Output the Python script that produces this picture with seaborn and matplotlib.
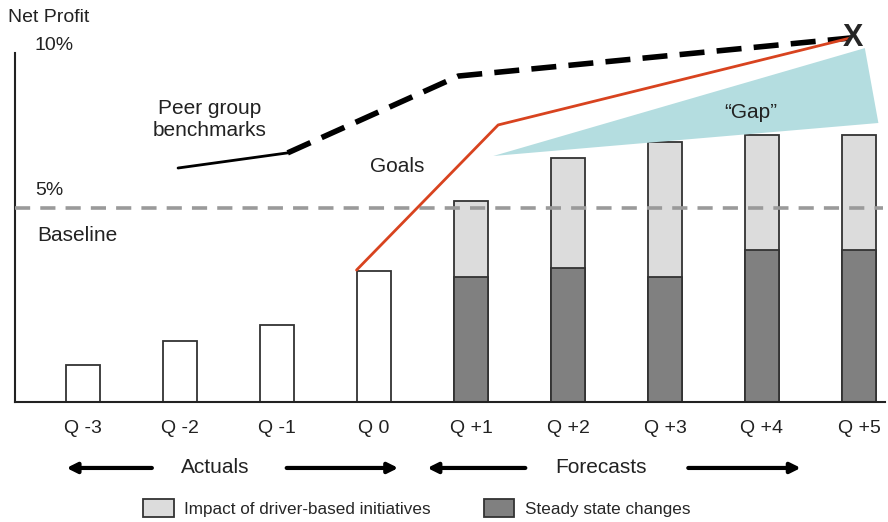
import matplotlib
matplotlib.use("Agg")
from matplotlib import pyplot as plt
from matplotlib.patches import Patch
import seaborn as sns
import pandas as pd

sns.set_style("white")
plt.rcParams['font.family'] = ['Liberation Sans', 'DejaVu Sans']

# bar data (net profit, %)
quarters = ["Q -3", "Q -2", "Q -1", "Q 0", "Q +1", "Q +2", "Q +3", "Q +4", "Q +5"]
kind = ["Actual"] * 4 + ["Forecast"] * 5
total = [0.95, 1.57, 1.98, 3.38, 5.18, 6.29, 6.70, 6.88, 6.88]
steady = [0, 0, 0, 0, 3.22, 3.45, 3.22, 3.92, 3.92]

# lines, x in quarter positions
peer_x = [0.98, 2.11]
peer_y = [6.03, 6.42]
peer_fc_x = [2.11, 3.87, 7.91]
peer_fc_y = [6.42, 8.40, 9.38]
goal_x = [2.82, 4.28, 7.91]
goal_y = [3.40, 7.14, 9.38]
gap_x = [4.23, 8.06, 8.20]
gap_y = [6.34, 9.12, 7.19]
baseline = 5.0

df = pd.DataFrame({"quarter": quarters, "kind": kind,
                   "total": total, "steady": steady})

fig = plt.figure(figsize=(8.88, 5.22), dpi=100)
ax = fig.add_axes([15 / 888, 120 / 522, 873 / 888, 402 / 522])

edge = "#333333"
sns.barplot(data=df, x="quarter", y="total", hue="kind", order=quarters,
            palette={"Actual": "white", "Forecast": "#dcdcdc"},
            dodge=False, width=0.36, edgecolor=edge, linewidth=1.3,
            errorbar=None, legend=False, ax=ax)
fc = df[df["kind"] == "Forecast"]
sns.barplot(data=fc, x="quarter", y="steady", order=quarters,
            color="#808080", width=0.36, edgecolor=edge, linewidth=1.3,
            errorbar=None, ax=ax)

# gap wedge
ax.fill(gap_x, gap_y, color="#b4dde0", lw=0, zorder=2)

# baseline
ax.plot([-0.70, 8.25], [baseline, baseline], color="#9a9a9a", lw=2.6,
        dashes=(4.2, 2.8), zorder=4)

# peer group benchmarks
ax.plot(peer_x, peer_y, color="black", lw=2, zorder=5)
ax.plot(peer_fc_x, peer_fc_y, color="black", lw=4, dashes=(4.5, 2.2),
        zorder=5)

# goals
ax.plot(goal_x, goal_y, color="#d8431f", lw=2, zorder=5)
ax.text(goal_x[-1] + 0.03, goal_y[-1], "X", fontsize=22, fontweight="bold",
        ha="center", va="center", zorder=6)

ax.set_xlim(-0.701, 8.299)
ax.set_ylim(0, 10.36)
ax.set_yticks([])
ax.set_xlabel("")
ax.set_ylabel("")
ax.tick_params(axis="x", length=0, pad=13, labelsize=14, colors="#222222")
sns.despine(ax=ax, top=True, right=True)
ax.spines["left"].set_bounds(0, 9.0)
ax.spines["bottom"].set_bounds(-0.70, 8.27)
for s in ["left", "bottom"]:
    ax.spines[s].set_color("#222222")
    ax.spines[s].set_linewidth(1.5)

# texts
fig.text(8 / 888, 1 - 18 / 522, "Net Profit", fontsize=14, va="center",
         color="#222222")
ax.text(-0.495, 9.18, "10%", fontsize=14, va="center", color="#222222")
ax.text(-0.495, 5.46, "5%", fontsize=14, va="center", color="#222222")
ax.text(-0.474, 4.28, "Baseline", fontsize=15, va="center", color="#222222")
ax.text(1.31, 7.27, "Peer group\nbenchmarks", fontsize=15, ha="center",
        va="center", linespacing=1.2, color="#222222")
ax.text(3.24, 6.06, "Goals", fontsize=15, ha="center", va="center",
        color="#222222")
ax.text(6.88, 7.45, "\u201cGap\u201d", fontsize=15, ha="center", va="center",
        color="#222222")

# period arrows
arrow_y = -1.70
arrow = dict(arrowstyle="-|>,head_length=0.6,head_width=0.3", lw=3,
             color="black", shrinkA=0, shrinkB=0)
for tail, head in [(0.71, -0.17), (2.10, 3.25), (4.56, 3.55), (6.24, 7.40)]:
    ax.annotate("", xy=(head, arrow_y), xytext=(tail, arrow_y),
                arrowprops=arrow, annotation_clip=False)
ax.text(1.36, arrow_y, "Actuals", fontsize=15, ha="center", va="center",
        color="#222222", clip_on=False)
ax.text(5.34, arrow_y, "Forecasts", fontsize=15, ha="center", va="center",
        color="#222222", clip_on=False)

# legend
handles = [Patch(facecolor="#dcdcdc", edgecolor=edge, lw=1.3),
           Patch(facecolor="#808080", edgecolor=edge, lw=1.3)]
labels = ["Impact of driver-based initiatives", "Steady state changes"]
fig.legend(handles, labels, loc="center left", ncol=2, frameon=False,
           bbox_to_anchor=(143 / 888, 1 - 508 / 522), fontsize=12.3,
           handlelength=1.8, handleheight=1.25, handletextpad=0.6,
           columnspacing=3.1, borderpad=0, borderaxespad=0)

fig.savefig("out.png", dpi=100)
